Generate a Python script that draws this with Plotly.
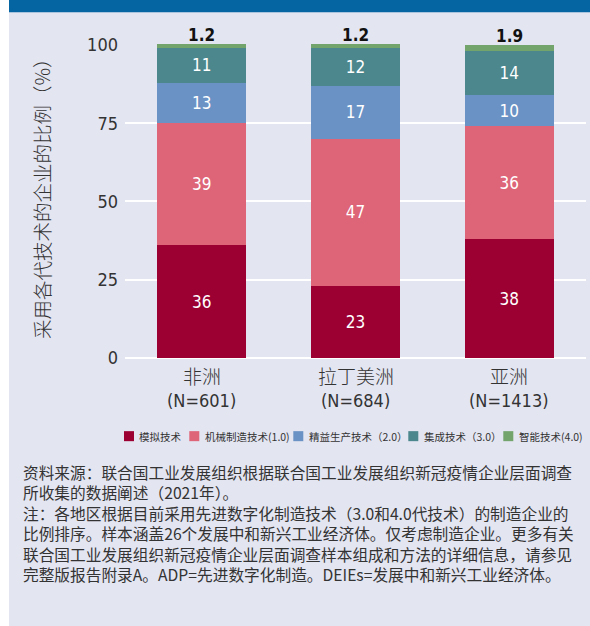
import plotly.graph_objects as go

# Regions and sample sizes
regions = ["非洲", "拉丁美洲", "亚洲"]
sample_sizes = ["(N=601)", "(N=684)", "(N=1413)"]

# Share of firms (%) by technology generation
series_names = ["模拟技术", "机械制造技术(1.0)", "精益生产技术（2.0）", "集成技术（3.0）", "智能技术(4.0)"]
analog = [36, 23, 38]
mechanical = [39, 47, 36]
lean = [13, 17, 10]
integrated = [11, 12, 14]
smart = [1.2, 1.2, 1.9]

y_ticks = [0, 25, 50, 75, 100]

colors = ["#9c0033", "#de6478", "#6a92c5", "#4b878c", "#72a46b"]
series = [analog, mechanical, lean, integrated, smart]

NUM_FONT = "DejaVu Sans Condensed, Liberation Sans Narrow, Noto Sans CJK SC, sans-serif"
CJK_FONT = "Noto Sans CJK SC, DejaVu Sans Condensed, sans-serif"
TEXT = "#333333"
BG = "#e3e5f1"

W, H = 590, 626
Y_MAX = 100.3
L, R, B = 125, 586, 357.7
T = B - (B - 45.3) * Y_MAX / 100


def px(x):
    return (x - L) / (R - L)


def py(y):
    return (B - y) / (B - T)


fig = go.Figure()
for i, (name, vals, col) in enumerate(zip(series_names, series, colors)):
    inside = i < 4
    fig.add_trace(go.Bar(
        x=regions, y=vals, name=name, marker=dict(color=col, line=dict(width=0)),
        text=[f"{v:g}" for v in vals] if inside else None,
        texttemplate="%{text}" if inside else None,
        textposition="inside" if inside else "none",
        insidetextanchor="middle",
        textfont=dict(color="white", size=17, family=NUM_FONT),
        showlegend=False, hoverinfo="skip",
    ))

# Values of the thin top segment, written above each bar
totals = [sum(s[k] for s in series) for k in range(len(regions))]
for k, reg in enumerate(regions):
    fig.add_annotation(x=reg, y=totals[k], xref="x", yref="y", text=f"<b>{smart[k]:g}</b>",
                       showarrow=False, yanchor="bottom", yshift=-3,
                       font=dict(size=17, color="#111111", family=NUM_FONT))

# Category labels with sample sizes
for reg, n in zip(regions, sample_sizes):
    fig.add_annotation(x=reg, xref="x", yref="paper", y=py(375), text=reg, showarrow=False,
                       yanchor="middle", font=dict(size=19, color=TEXT, family=CJK_FONT, weight=300))
    fig.add_annotation(x=reg, xref="x", yref="paper", y=py(400.5), text=n, showarrow=False,
                       yanchor="middle", font=dict(size=18, color=TEXT, family=NUM_FONT))

fig.update_layout(
    width=W, height=H, barmode="stack", bargap=0.42,
    margin=dict(l=L, r=W - R, t=T, b=H - B, pad=0),
    paper_bgcolor=BG, plot_bgcolor=BG,
    xaxis=dict(showticklabels=False, showgrid=False, showline=False, ticks=""),
    yaxis=dict(range=[0, Y_MAX], tickvals=y_ticks, showgrid=True, gridcolor="white", gridwidth=2,
               zeroline=True, zerolinecolor="white", zerolinewidth=2, showline=False, ticks="",
               ticklabelstandoff=6, tickfont=dict(size=18, color=TEXT, family=NUM_FONT)),
)

# Page frame: white margin on the left and blue band on top
fig.add_shape(type="rect", xref="paper", yref="paper", x0=px(0), x1=px(9), y0=py(H), y1=py(0),
              fillcolor="white", line=dict(width=0), layer="below")
fig.add_shape(type="rect", xref="paper", yref="paper", x0=px(9), x1=px(W), y0=py(12.7), y1=py(0),
              fillcolor="#0465a2", line=dict(width=0), layer="below")

# Axis title
fig.add_annotation(xref="paper", yref="paper", x=px(42), y=py(194), text="采用各代技术的企业的比例（%）",
                   textangle=-90, showarrow=False, xanchor="center", yanchor="middle",
                   font=dict(size=19.5, color=TEXT, family=CJK_FONT, weight=300))

# Legend
legend_x = [124, 189.3, 293.3, 408.3, 503.3]
legend_y = 435.7
for name, col, lx in zip(series_names, colors, legend_x):
    fig.add_shape(type="rect", xref="paper", yref="paper", x0=px(lx), x1=px(lx + 10),
                  y0=py(legend_y + 5), y1=py(legend_y - 5), fillcolor=col, line=dict(width=0))
    fig.add_annotation(xref="paper", yref="paper", x=px(lx + 13.3), y=py(legend_y), text=name,
                       showarrow=False, xanchor="left", yanchor="middle",
                       font=dict(size=10.5, color=TEXT, family=CJK_FONT))

# Source and notes
notes = [
    "资料来源：联合国工业发展组织根据联合国工业发展组织新冠疫情企业层面调查",
    "所收集的数据阐述（2021年）。",
    "注：各地区根据目前采用先进数字化制造技术（3.0和4.0代技术）的制造企业的",
    "比例排序。样本涵盖26个发展中和新兴工业经济体。仅考虑制造企业。更多有关",
    "联合国工业发展组织新冠疫情企业层面调查样本组成和方法的详细信息，请参见",
    "完整版报告附录A。ADP=先进数字化制造。DEIEs=发展中和新兴工业经济体。",
]
fig.add_annotation(xref="paper", yref="paper", x=px(21), y=py(523), text="<br>".join(notes),
                   showarrow=False, xanchor="left", yanchor="middle", align="left",
                   font=dict(size=15.7, color=TEXT, family=CJK_FONT))

fig.write_html("out.html")
